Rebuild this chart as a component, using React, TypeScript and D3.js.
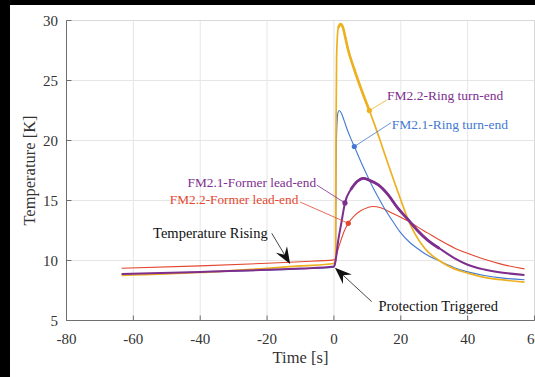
import React from 'react';
import * as d3 from 'd3';

// ---------- data ----------
const X_TICKS = [-80, -60, -40, -20, 0, 20, 40, 60];
const Y_TICKS = [5, 10, 15, 20, 25, 30];

const RED_T = [-63.5, -40, -20, -10, 0, 0.6, 1.2, 2, 3, 4.3, 6, 8, 10, 11.6, 14, 17, 20, 22.2, 25, 28, 31.6, 36, 40, 45, 50, 57];
const RED_V = [9.35, 9.55, 9.77, 9.9, 10.05, 10.3, 10.9, 11.6, 12.4, 13.1, 13.7, 14.15, 14.4, 14.5, 14.4, 14.0, 13.6, 13.3, 12.8, 12.3, 11.7, 11.05, 10.6, 10.1, 9.7, 9.3];

const BLUE_T = [-63.5, -40, -20, -10, 0, 0.5, 0.6, 0.8, 1.2, 1.6, 2.2, 3, 4, 5, 6.1, 7.8, 9.5, 11.3, 13, 15, 18, 20, 22.7, 25, 27, 31.6, 36, 40, 45, 50, 57];
const BLUE_V = [8.85, 9.03, 9.2, 9.3, 9.45, 9.8, 16, 20.5, 22.3, 22.5, 22.3, 21.7, 20.9, 20.2, 19.5, 18.4, 17.35, 16.3, 15.4, 14.4, 13.1, 12.3, 11.5, 11.0, 10.6, 9.95, 9.4, 9.05, 8.75, 8.55, 8.4];

const YEL_T = [-63.5, -40, -20, -10, 0, 0.5, 0.6, 0.8, 1.3, 2.0, 2.6, 3.4, 4.2, 6, 8, 10.6, 12, 13.7, 16, 18, 20.2, 22.2, 24, 27.2, 32, 36, 40, 45, 50, 57];
const YEL_V = [8.75, 9.0, 9.35, 9.55, 9.75, 10.0, 20, 27, 29.4, 29.7, 29.5, 28.6, 27.6, 26.0, 24.4, 22.5, 21.45, 20.1, 18.2, 16.6, 14.9, 13.4, 12.35, 11.0, 9.9, 9.3, 8.95, 8.6, 8.4, 8.2];

const PUR_T = [-63.5, -40, -20, -10, 0, 0.5, 1.3, 2.2, 3.3, 5, 7, 8.8, 10.5, 13.3, 16.3, 19, 22.2, 25, 28, 31.6, 36, 40, 45, 50, 57];
const PUR_V = [8.88, 9.05, 9.22, 9.33, 9.5, 10.0, 11.7, 13.1, 14.8, 15.9, 16.6, 16.85, 16.7, 16.3, 15.45, 14.4, 13.4, 12.5, 11.7, 11.0, 10.2, 9.65, 9.25, 9.0, 8.8];

// markers [t, T]
const MARK_RED = [4.3, 13.1];
const MARK_BLUE = [6.1, 19.5];
const MARK_YEL = [10.6, 22.5];
const MARK_PUR = [3.3, 14.8];

const COLORS = { red: '#E4472F', blue: '#4479D2', yellow: '#EDB120', purple: '#7E2F8E' };

export default function App() {
  const W = 535, H = 377;
  const x = d3.scaleLinear().domain([-80, 60]).range([66.5, 534.5]);
  const y = d3.scaleLinear().domain([5, 30]).range([320.5, 20.5]);
  const line = d3.line<[number, number]>().x(d => x(d[0])).y(d => y(d[1])).curve(d3.curveMonotoneX);
  const zip = (t: number[], v: number[]) => t.map((tt, i) => [tt, v[i]] as [number, number]);
  const sub = (pts: [number, number][], a: number, b: number) => pts.filter(p => p[0] >= a && p[0] <= b);

  const red = zip(RED_T, RED_V);
  const blue = zip(BLUE_T, BLUE_V);
  const yel = zip(YEL_T, YEL_V);
  const pur = zip(PUR_T, PUR_V);

  const font = '"Liberation Serif", "Times New Roman", serif';
  const axisColor = '#6e6e6e';
  const textColor = '#333';

  const arrow = (t1: number, v1: number, t2: number, v2: number, key: string) => {
    const x1 = x(t1), y1 = y(v1), x2 = x(t2), y2 = y(v2);
    const dx = x2 - x1, dy = y2 - y1;
    const L = Math.hypot(dx, dy);
    const ux = dx / L, uy = dy / L;
    const len = 17, hw = 6.5, notch = 11;
    const bx = x2 - ux * len, by = y2 - uy * len;
    const nx = x2 - ux * notch, ny = y2 - uy * notch;
    const px = -uy, py = ux;
    const pts = [
      [x2, y2],
      [bx + px * hw, by + py * hw],
      [nx, ny],
      [bx - px * hw, by - py * hw],
    ].map(p => p.join(',')).join(' ');
    return (
      <g key={key}>
        <line x1={x1} y1={y1} x2={nx} y2={ny} stroke="#333" strokeWidth={0.9} />
        <polygon points={pts} fill="#111" />
      </g>
    );
  };

  const leader = (t1: number, v1: number, t2: number, v2: number, color: string) => (
    <line x1={x(t1)} y1={y(v1)} x2={x(t2)} y2={y(v2)} stroke={color} strokeWidth={0.8} />
  );

  return (
    <svg width={W} height={H} style={{ position: 'absolute', left: 0, top: 0 }} fontFamily={font}>
      <rect x={0} y={0} width={W} height={H} fill="#000" />
      <rect x={10} y={5} width={W - 10} height={H - 5} fill="#fff" />

      {/* grid */}
      {X_TICKS.map(t => (
        <line key={'gx' + t} x1={x(t)} x2={x(t)} y1={y(5)} y2={y(30)} stroke="#e6e6e6" strokeWidth={1} />
      ))}
      {Y_TICKS.map(v => (
        <line key={'gy' + v} x1={x(-80)} x2={x(60)} y1={y(v)} y2={y(v)} stroke="#e6e6e6" strokeWidth={1} />
      ))}
      {/* box top / right */}
      <line x1={x(-80)} x2={x(60)} y1={y(30)} y2={y(30)} stroke="#d9d9d9" />
      <line x1={x(60)} x2={x(60)} y1={y(5)} y2={y(30)} stroke="#d9d9d9" />
      {/* axes */}
      <line x1={x(-80)} x2={x(60)} y1={y(5)} y2={y(5)} stroke={axisColor} />
      <line x1={x(-80)} x2={x(-80)} y1={y(5)} y2={y(30)} stroke={axisColor} />
      {X_TICKS.map(t => (
        <g key={'tx' + t}>
          <line x1={x(t)} x2={x(t)} y1={y(5)} y2={y(5) - 5} stroke={axisColor} />
          <text x={x(t)} y={344} textAnchor="middle" fontSize={15} fill={textColor}>{t}</text>
        </g>
      ))}
      {Y_TICKS.map(v => (
        <g key={'ty' + v}>
          <line x1={x(-80)} x2={x(-80) + 5} y1={y(v)} y2={y(v)} stroke={axisColor} />
          <text x={58} y={y(v) + 5} textAnchor="end" fontSize={15} fill={textColor}>{v}</text>
        </g>
      ))}
      <text x={(x(-80) + x(60)) / 2} y={363} textAnchor="middle" fontSize={16.5} fill={textColor}>Time [s]</text>
      <text transform={`translate(35,${(y(5) + y(30)) / 2}) rotate(-90)`} textAnchor="middle" fontSize={16.5} fill={textColor}>Temperature [K]</text>

      {/* series */}
      <path d={line(red) || ''} fill="none" stroke={COLORS.red} strokeWidth={1.1} />
      <path d={line(blue) || ''} fill="none" stroke={COLORS.blue} strokeWidth={1.1} />
      <path d={line(yel) || ''} fill="none" stroke={COLORS.yellow} strokeWidth={1.7} />
      <path d={line(sub(yel, 1.3, 10.6)) || ''} fill="none" stroke={COLORS.yellow} strokeWidth={2.6} />
      <path d={line(pur) || ''} fill="none" stroke={COLORS.purple} strokeWidth={2} />
      <path d={line(sub(pur, 5, 31.6)) || ''} fill="none" stroke={COLORS.purple} strokeWidth={2.8} />

      {/* annotation leaders */}
      {leader(MARK_YEL[0], MARK_YEL[1], 15.8, 23.37, COLORS.yellow)}
      {leader(MARK_BLUE[0], MARK_BLUE[1], 17.1, 21.48, COLORS.blue)}
      {leader(MARK_PUR[0], MARK_PUR[1], -5.15, 16.29, COLORS.purple)}
      {leader(MARK_RED[0], MARK_RED[1], -10.1, 14.87, COLORS.red)}

      {/* markers */}
      {[[MARK_RED, COLORS.red], [MARK_BLUE, COLORS.blue], [MARK_YEL, COLORS.yellow], [MARK_PUR, COLORS.purple]].map(([m, c], i) => (
        <circle key={'m' + i} cx={x((m as number[])[0])} cy={y((m as number[])[1])} r={2.6} fill={c as string} />
      ))}

      {/* labels */}
      <text x={x(15.9)} y={y(23.37)} fontSize={13.5} fill={COLORS.purple}>FM2.2-Ring turn-end</text>
      <text x={x(17.3)} y={y(20.93)} fontSize={13.5} fill={COLORS.blue}>FM2.1-Ring turn-end</text>
      <text x={x(-5.35)} y={y(16.1)} textAnchor="end" fontSize={13.3} fill={COLORS.purple}>FM2.1-Former lead-end</text>
      <text x={x(-10.65)} y={y(14.68)} textAnchor="end" fontSize={13.3} fill={COLORS.red}>FM2.2-Former lead-end</text>
      <text x={x(-54.1)} y={y(11.9)} fontSize={14.5} fill="#111">Temperature Rising</text>
      <text x={x(13.3)} y={y(5.79)} fontSize={14.5} fill="#111">Protection Triggered</text>

      {arrow(-18.6, 12.27, -13.1, 9.7, 'a1')}
      {arrow(11.3, 6.57, 0.3, 9.4, 'a2')}
    </svg>
  );
}
